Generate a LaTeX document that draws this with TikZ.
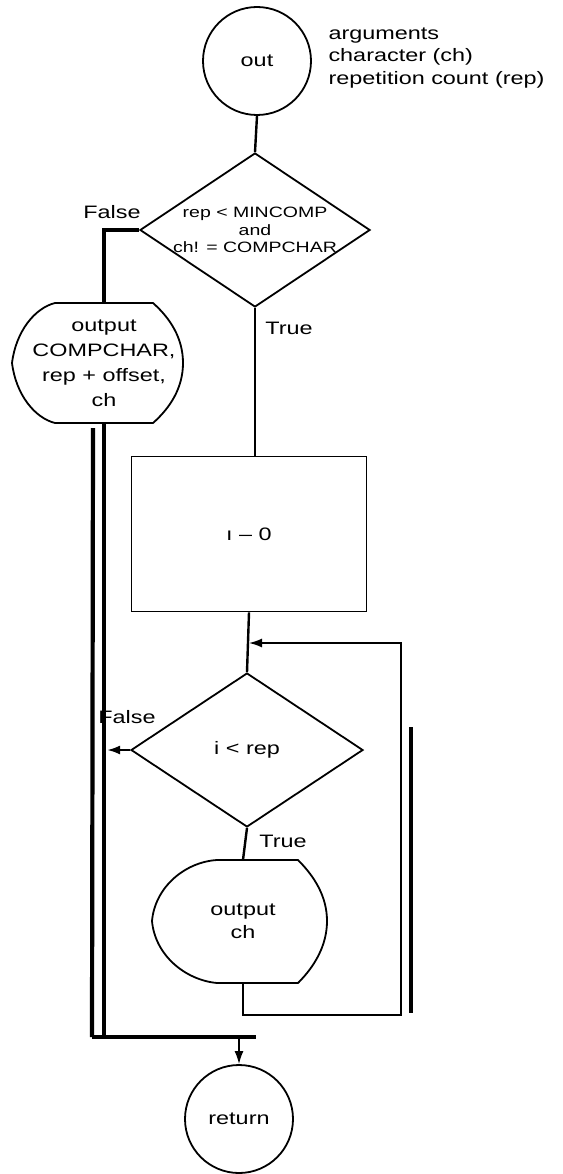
\documentclass[tikz,border=0pt]{standalone}
\usepackage{fontspec}
\setmainfont{Liberation Sans}[FakeStretch=1.3]
\usetikzlibrary{arrows.meta,shapes.geometric,calc,positioning}
\tikzset{
  term/.style={circle, draw, line width=1.8pt, minimum size=108pt, inner sep=0pt},
  decision/.style={diamond, draw, line width=1.8pt, inner sep=0pt},
  process/.style={rectangle, draw, line width=1.8pt, inner sep=0pt},
  display/.style={inner sep=0pt, align=center},
  outline/.style={line width=1.8pt, line join=round},
  flow/.style={line width=2.4pt},
  loopline/.style={line width=1.6pt},
  heavy/.style={line width=4.2pt},
  tip/.style={-{Latex[length=13pt,width=9pt]}},
  cond/.style={font=\fontsize{15}{17.5}\selectfont, align=center},
  note/.style={align=left}
}

\begin{document}
\begin{tikzpicture}[x=1pt,y=-1pt, every node/.style={font=\fontsize{18}{22.5}\selectfont}]
  \useasboundingbox (0,0) rectangle (562,1174);
  % terminals
  \node[term] (out) at (257,61) {out};
  \node[note, anchor=west] (args) at (325,58) {arguments\\character (ch)\\repetition count (rep)};
  \node[term] (return) at (239,1119) {return};

  % first test
  \node[decision, minimum width=230pt, minimum height=154pt] (d1) at (255,230) {};
  \node[cond] (d1text) at (d1) {rep < MINCOMP\\and\\ch! = COMPCHAR};
  \node (d1false) at (112,212) {False};
  \node (d1true) at (289,328) {True};

  % compressed output
  \node[display, minimum width=160pt, minimum height=120pt,
        font=\fontsize{18}{25}\selectfont] (outA) at (104,363) {output\\COMPCHAR,\\rep + offset,\\ch};
  \draw[outline] (55,303) -- (153,303) .. controls (170,318) and (183,338) .. (183,363)
    .. controls (183,388) and (170,408) .. (153,423) -- (55,423)
    .. controls (35,418) and (16,395) .. (12,363) .. controls (16,331) and (35,308) .. cycle;

  % counter
  \node[process, minimum width=235pt, minimum height=155pt] (rect) at (249,534) {\i{} -- 0};

  % loop test
  \node[decision, minimum width=232pt, minimum height=154pt] (d2) at (247,750) {};
  \node (d2text) at (d2) {i < rep};
  \node (d2false) at (127,717) {False};
  \node (d2true) at (283,841) {True};

  \node[display, minimum width=150pt, minimum height=123pt] (outB) at (243,921.5) {output\\ch};
  \draw[outline] (217,860) -- (298,860) .. controls (315,877) and (327,897) .. (327,921)
    .. controls (327,945) and (315,966) .. (298,983) -- (217,983)
    .. controls (185,980) and (155,955) .. (152,921) .. controls (155,887) and (185,862) .. cycle;

  \coordinate (join) at (249,643);
  \coordinate (bus) at (107,750);
  \coordinate (busend) at (92,1037);

  % connectors
  \draw[flow] (out.south) -- (d1.north);
  \draw[line width=3.6pt] (d1.west) -| (outA.north);
  \draw[flow] (d1.south) -- (d1.south |- rect.north);
  \draw[flow] (rect.south) -- (d2.north);
  \draw[flow] (d2.south) -- (outB.north);
  \draw[flow, tip] (d2.west) -- (bus);
  \draw[loopline, tip] (outB.south) |- (401,1015) |- (join);
  \draw[heavy] (outA.south) -- (outA.south |- busend);
  \draw[heavy] (93,428) -- (busend);
  \draw[heavy] (busend) -- (256,1037);
  \draw[loopline, tip] (return.north |- busend) -- (return.north);
  \draw[heavy] (411,727) -- (411,1013);
\end{tikzpicture}
\end{document}
